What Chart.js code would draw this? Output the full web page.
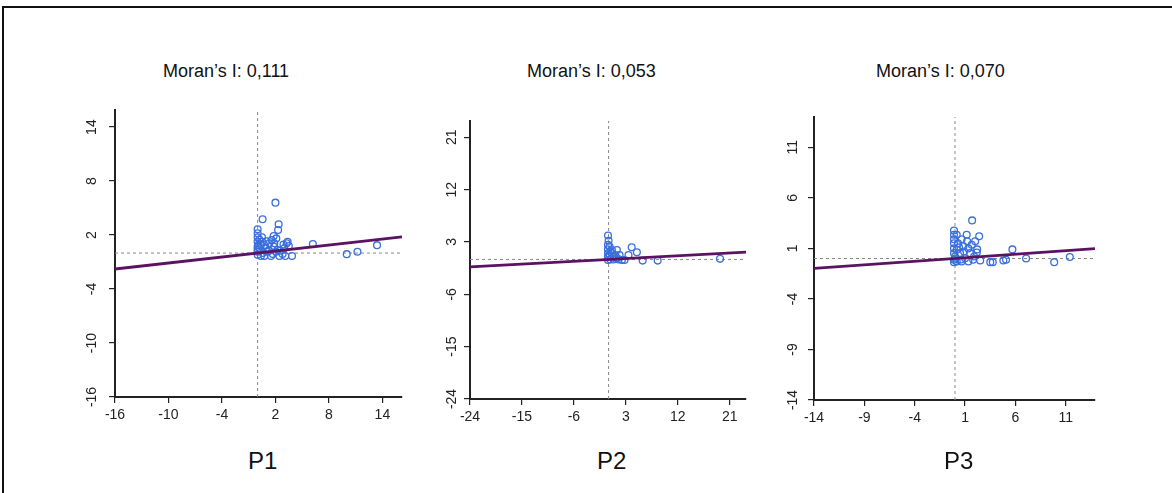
<!DOCTYPE html>
<html lang="en">
<head>
  <meta charset="UTF-8" />
  <title>Moran scatterplots P1-P3</title>
  <style>
    body {
      margin: 0;
      width: 1172px;
      height: 493px;
      overflow: hidden;
      position: relative;
      background: #ffffff;
      font-family: "Liberation Sans", Arial, sans-serif;
      color: #111;
    }
    .frame {
      position: absolute;
      left: 2px;
      top: 6px;
      width: 1250px;
      height: 600px;
      border: 2px solid #111;
    }
    canvas { position: absolute; }
    .moran {
      position: absolute;
      font-size: 18px;
      white-space: nowrap;
    }
    .plabel {
      position: absolute;
      font-size: 24px;
      white-space: nowrap;
    }
  </style>
</head>
<body>
  <div class="frame"></div>
  <canvas id="c1"></canvas>
  <canvas id="c2"></canvas>
  <canvas id="c3"></canvas>

  <script src="https://cdn.jsdelivr.net/npm/chart.js"></script>
  <script>
    // --- data ---
    const panelNames = ["P1", "P2", "P3"];
    const moranI = [0.111, 0.053, 0.070];
    const moranLabels = ["Moran’s I: 0,111", "Moran’s I: 0,053", "Moran’s I: 0,070"];

    const p1X = [2.0, 0.56, 2.36, 2.3, 0, 0, 0, 0, 0, 0, 0, 0.49, 0.49, 1.8, 1.57, 1.3, 0.75, 0.94, 1.3, 1.87,
                 1.87, 2.1, 2.25, 2.8, 3.0, 3.26, 3.37, 3.5, 3.1, 3.86, 2.44, 1.5, 0.75, 0.37, 6.2, 10.0, 11.2, 13.4, 0.19, 0.37,
                 1.1, 1.7, 2.06, 2.5, 0, 0.2, 0.1, 1.0, 2.9, 0.6];
    const p1Y = [5.6, 3.75, 3.2, 2.56, 2.64, 2.2, 1.75, 1.26, 0.7, 0.15, -0.2, 1.75, 1.26, 1.9, 1.45, 1.08, 0.9, 0.52, 0.26, 0.7,
                 1.08, 1.63, 0.33, -0.1, 0.52, 1.08, 1.26, 0.78, -0.33, -0.33, -0.33, -0.33, -0.33, -0.33, 1.0, -0.12, 0.15, 0.88, 0.52, 0.9,
                 0.15, -0.1, 0.15, 0.26, 0.4, 1.5, 0.9, 1.3, 0.95, 0.0];

    const p2X = [-0.1, 0.0, -0.1, -0.1, -0.1, -0.1, -0.1, 0.17, 0.58, 1.44, 0.58, 1.15, 1.9, 1.44, 2.3, 2.76, 3.45, 4.0, 4.9, 5.9,
                 8.5, 19.3, 0.29, 0.86, 1.73, 0.3, 1.0, 0.2];
    const p2Y = [4.1, 3.2, 2.5, 1.75, 1.06, 0.5, -0.1, 2.2, 1.6, 1.6, 1.06, 0.77, 0.77, 0.2, -0.1, -0.1, 0.77, 2.1, 1.23, -0.2,
                 -0.2, 0.1, 0, 0, 0, 1.3, 0.4, 0.8];

    const p3X = [1.7, -0.1, -0.1, -0.1, -0.1, -0.1, -0.1, -0.1, -0.1, 0.17, 1.16, 0.66, 2.4, 2.0, 1.66, 0.83, 1.33, 0.17, 0.5, 1.5,
                 2.16, 0.0, 1.0, 1.8, 2.5, 0.66, 1.33, 0.17, 3.5, 3.75, 4.8, 5.07, 5.7, 7.06, 9.85, 11.4, 0.3, 0.9, 1.9, 0.4,
                 1.2, 2.2, 0.0, 0.6];
    const p3Y = [3.77, 2.77, 2.35, 1.9, 1.5, 1.0, 0.53, -0.13, -0.36, 2.35, 2.35, 1.9, 2.2, 1.7, 1.35, 1.2, 1.0, 0.86, 0.53, 0.53,
                 0.6, 0.2, 0.03, -0.13, -0.2, -0.3, -0.3, -0.3, -0.36, -0.36, -0.2, -0.13, 0.9, 0.0, -0.36, 0.15, 1.5, 0.7, 0.2, 1.1,
                 1.7, 0.9, 0.0, -0.1];

    const p1Ticks = [-16, -10, -4, 2, 8, 14];
    const p2Ticks = [-24, -15, -6, 3, 12, 21];
    const p3Ticks = [-14, -9, -4, 1, 6, 11];

    const p1XLim = [-16, 16.2], p1YLim = [-16, 15.9];
    const p2XLim = [-24, 23.8], p2YLim = [-24, 23.8];
    const p3XLim = [-14, 13.9], p3YLim = [-14, 14.0];

    // --- layout (chart area boxes in page pixels) ---
    const boxes = [
      { left: 115, top: 110, right: 402, bottom: 397, yPad: 7 },
      { left: 470, top: 121, right: 746, bottom: 399, yPad: 2 },
      { left: 814, top: 117, right: 1095, bottom: 400, yPad: 5 }
    ];
    const titlePos = [[163, 61], [527, 61], [876, 61]];
    const labelPos = [[248, 447], [597, 447], [944, 447]];

    const FONT = "'Liberation Sans', Arial, sans-serif";
    const Y_W = 55, X_H = 45, PAD_T = 20, PAD_R = 20;

    function drawPanel(idx, xs, ys, ticks, xLim, yLim) {
      const box = boxes[idx];
      const canvas = document.getElementById("c" + (idx + 1));
      canvas.width = (box.right - box.left) + Y_W + PAD_R;
      canvas.height = (box.bottom - box.top) + PAD_T + X_H;
      canvas.style.left = (box.left - Y_W) + "px";
      canvas.style.top = (box.top - PAD_T) + "px";

      const slope = moranI[idx];
      const axisColor = "#222";

      new Chart(canvas.getContext("2d"), {
        type: "scatter",
        data: {
          datasets: [
            {
              data: [{ x: xLim[0], y: slope * xLim[0] }, { x: xLim[1], y: slope * xLim[1] }],
              showLine: true,
              borderColor: "#5c1262",
              borderWidth: 2.8,
              pointRadius: 0
            },
            {
              data: xs.map((x, i) => ({ x: x, y: ys[i] })),
              showLine: false,
              pointRadius: 3.4,
              pointBorderWidth: 1.3,
              pointBorderColor: "#3a6fdc",
              pointBackgroundColor: "rgba(0,0,0,0)"
            },
            {
              data: [{ x: 0, y: yLim[0] }, { x: 0, y: yLim[1] }],
              showLine: true,
              borderColor: "#888888",
              borderWidth: 1,
              borderDash: [3, 3],
              pointRadius: 0
            },
            {
              data: [{ x: xLim[0], y: 0 }, { x: xLim[1], y: 0 }],
              showLine: true,
              borderColor: "#888888",
              borderWidth: 1,
              borderDash: [3, 3],
              pointRadius: 0
            }
          ]
        },
        options: {
          responsive: false,
          animation: false,
          layout: { padding: { left: 0, top: PAD_T, right: PAD_R, bottom: 0 } },
          plugins: {
            legend: { display: false },
            tooltip: { enabled: false }
          },
          scales: {
            x: {
              type: "linear",
              min: xLim[0],
              max: xLim[1],
              afterBuildTicks: s => { s.ticks = ticks.map(v => ({ value: v })); },
              afterFit: s => { s.height = X_H; },
              grid: { display: true, drawOnChartArea: false, drawTicks: true, tickLength: 6, color: axisColor, lineWidth: 1.2 },
              border: { display: true, color: axisColor, width: 2 },
              ticks: {
                color: "#222",
                font: { family: FONT, size: 14 },
                padding: 4,
                maxRotation: 0,
                autoSkip: false,
                callback: v => String(v)
              }
            },
            y: {
              type: "linear",
              min: yLim[0],
              max: yLim[1],
              afterBuildTicks: s => { s.ticks = ticks.map(v => ({ value: v })); },
              afterFit: s => { s.width = Y_W; },
              grid: { display: true, drawOnChartArea: false, drawTicks: true, tickLength: 6, color: axisColor, lineWidth: 1.2 },
              border: { display: true, color: axisColor, width: 2 },
              ticks: {
                color: "#222",
                font: { family: FONT, size: 14 },
                padding: box.yPad,
                minRotation: 90,
                maxRotation: 90,
                crossAlign: "center",
                autoSkip: false,
                callback: v => String(v)
              }
            }
          }
        }
      });

      const t = document.createElement("div");
      t.className = "moran";
      t.textContent = moranLabels[idx];
      t.style.left = titlePos[idx][0] + "px";
      t.style.top = titlePos[idx][1] + "px";
      document.body.appendChild(t);

      const p = document.createElement("div");
      p.className = "plabel";
      p.textContent = panelNames[idx];
      p.style.left = labelPos[idx][0] + "px";
      p.style.top = labelPos[idx][1] + "px";
      document.body.appendChild(p);
    }

    drawPanel(0, p1X, p1Y, p1Ticks, p1XLim, p1YLim);
    drawPanel(1, p2X, p2Y, p2Ticks, p2XLim, p2YLim);
    drawPanel(2, p3X, p3Y, p3Ticks, p3XLim, p3YLim);
  </script>
</body>
</html>
